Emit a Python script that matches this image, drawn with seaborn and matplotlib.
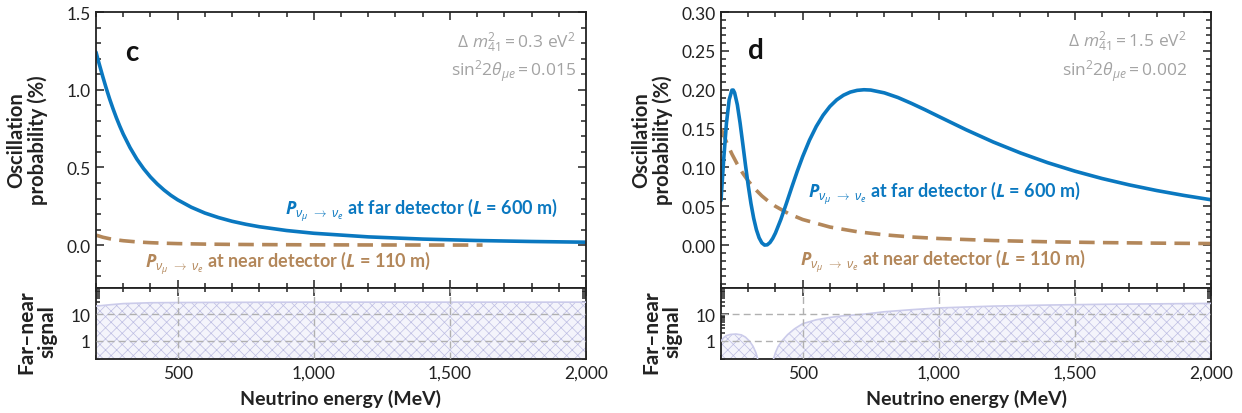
import matplotlib
matplotlib.use("Agg")
import matplotlib.pyplot as plt
import seaborn as sns
from matplotlib.ticker import (MultipleLocator, FixedLocator, LogLocator, NullFormatter,
                               FixedFormatter, FormatStrFormatter)

# ---------------- data ----------------
# Panel c : dm2 = 0.3 eV^2, sin^2 2theta = 0.015
energy_c_far = [200, 210, 225, 237.5, 250, 262.5, 275, 287.5, 300, 325, 350, 375, 400,
                425, 450, 475, 500, 550, 600, 650, 700, 750, 800, 900, 1000, 1200,
                1400, 1600, 1800, 2000]
prob_c_far = [1.242, 1.177, 1.084, 1.010, 0.941, 0.878, 0.819, 0.765, 0.715, 0.628,
              0.554, 0.492, 0.439, 0.394, 0.355, 0.321, 0.292, 0.2445, 0.207, 0.178,
              0.154, 0.135, 0.119, 0.0947, 0.0770, 0.0538, 0.0396, 0.0304, 0.0241,
              0.0195]
energy_c_near = [200, 225, 250, 275, 300, 350, 400, 450, 500, 600, 700, 800, 1000,
                 1200, 1400, 1620]
prob_c_near = [0.0649, 0.0515, 0.0418, 0.0346, 0.0291, 0.0214, 0.0164, 0.0130, 0.0105,
               0.0073, 0.00537, 0.0041, 0.00263, 0.00183, 0.00134, 0.0010]
energy_c_sig = [200, 250, 300, 400, 500, 700, 1000, 1500, 2000]
signal_c = [20.5, 23.0, 25.5, 27.5, 28.0, 28.5, 29.0, 29.0, 29.0]

# Panel d : dm2 = 1.5 eV^2, sin^2 2theta = 0.002
energy_d_far = [200, 210, 220, 230, 240, 245, 250, 260, 270, 280, 290, 300, 310, 320,
                330, 340, 350, 360, 370, 380, 390, 400, 420, 440, 460, 480, 500, 525,
                550, 575, 600, 625, 650, 675, 700, 725, 750, 800, 850, 900, 950, 1000,
                1100, 1200, 1300, 1400, 1500, 1600, 1700, 1800, 1900, 2000]
prob_d_far = [0.0579, 0.1110, 0.1569, 0.1871, 0.1995, 0.1996, 0.1961, 0.1807, 0.1575,
              0.1305, 0.1029, 0.0768, 0.0538, 0.0348, 0.0200, 0.00954, 0.00306,
              0.00022, 0.00055, 0.00355, 0.00876, 0.0157, 0.0333, 0.0536, 0.0746,
              0.0950, 0.1140, 0.1351, 0.1528, 0.1672, 0.1785, 0.1870, 0.1930, 0.1970,
              0.1992, 0.2000, 0.1996, 0.1960, 0.1900, 0.1824, 0.1742, 0.1656, 0.1486,
              0.1328, 0.1187, 0.1062, 0.0953, 0.0858, 0.0776, 0.0704, 0.0641, 0.0585]
energy_d_near = [200, 220, 240, 260, 280, 300, 325, 350, 375, 400, 450, 500, 600, 700,
                 800, 900, 1000, 1200, 1400, 1600, 1800, 2000]
prob_d_near = [0.1501, 0.1328, 0.1174, 0.1041, 0.0926, 0.0827, 0.0723, 0.0635, 0.0562,
               0.0501, 0.0403, 0.0331, 0.0234, 0.0174, 0.0134, 0.0106, 0.00865,
               0.00604, 0.00445, 0.00341, 0.00270, 0.00219]
energy_d_sig_lobe = [200, 210, 220, 235, 255, 275, 290, 305, 318, 328, 334, 338]
signal_d_lobe = [0.95, 1.3, 1.55, 1.72, 1.78, 1.65, 1.35, 0.95, 0.6, 0.35, 0.22, 0.1]
energy_d_sig_rise = [390, 393, 400, 410, 425, 445, 470, 500, 550, 600, 650, 720, 800,
                     900, 1000, 1200, 1400, 1600, 1800, 2000]
signal_d_rise = [0.1, 0.2, 0.35, 0.6, 1.0, 1.7, 2.8, 4.4, 6.2, 7.6, 8.8, 10.0, 12.5,
                 15.0, 17.5, 20.5, 22.5, 24.0, 25.0, 26.0]

x_tick_values = [500, 1000, 1500, 2000]
x_tick_labels = ["500", "1,000", "1,500", "2,000"]
c_ytick_values = [0.0, 0.5, 1.0, 1.5]
d_ytick_values = [0.00, 0.05, 0.10, 0.15, 0.20, 0.25, 0.30]
sig_tick_values = [1, 10]
sig_tick_labels = ["1", "10"]

# ---------------- style ----------------
sns.set_theme(style="ticks")
plt.rcParams.update({
    "axes.edgecolor": "#222222",
    "axes.linewidth": 1.3,
    "xtick.direction": "in",
    "ytick.direction": "in",
    "xtick.color": "#222222",
    "ytick.color": "#222222",
    "xtick.labelcolor": "#222222",
    "ytick.labelcolor": "#222222",
    "mathtext.fontset": "custom",
    "mathtext.rm": "Open Sans",
    "mathtext.it": "Open Sans:italic",
    "mathtext.bf": "Open Sans:bold",
    "mathtext.bfit": "Open Sans:italic:bold",
    "mathtext.sf": "Open Sans",
    "hatch.linewidth": 0.5,
})
plt.rcParams["font.family"] = ["Lato", "DejaVu Sans"]

BLUE = "#0a78c0"
BROWN = "#b3875a"
GRAY = "#a3a3a3"
LAV_LINE = "#cbcbea"
LAV_HATCH = "#bdbde2"
TXT = "#222222"
NEAR_DASH = (0, (4.3, 2.3))

W, H = 1242, 414
fig = plt.figure(figsize=(W / 100, H / 100), dpi=100)


def rect(x0, y0, x1, y1):
    return [x0 / W, 1 - y1 / H, (x1 - x0) / W, (y1 - y0) / H]


def style_main(ax, ymin, ymax, yticks, yminor, fmt):
    ax.set_xlim(200, 2000)
    ax.set_ylim(ymin, ymax)
    ax.xaxis.set_major_locator(MultipleLocator(500))
    ax.xaxis.set_minor_locator(MultipleLocator(100))
    ax.yaxis.set_major_locator(FixedLocator(yticks))
    ax.yaxis.set_minor_locator(MultipleLocator(yminor))
    ax.yaxis.set_major_formatter(FormatStrFormatter(fmt))
    ax.tick_params(which="both", top=True, right=True, bottom=True, left=True,
                   labelbottom=False, width=1.1)
    ax.tick_params(which="major", length=6, labelsize=12.5, pad=4)
    ax.tick_params(which="minor", length=3.5)
    ax.set_xlabel("")
    ax.set_ylabel("")


def style_strip(ax):
    ax.set_xlim(200, 2000)
    ax.set_yscale("log")
    ax.set_ylim(0.2, 100)
    ax.xaxis.set_major_locator(FixedLocator(x_tick_values))
    ax.xaxis.set_major_formatter(FixedFormatter(x_tick_labels))
    ax.xaxis.set_minor_locator(MultipleLocator(100))
    ax.yaxis.set_major_locator(FixedLocator(sig_tick_values))
    ax.yaxis.set_major_formatter(FixedFormatter(sig_tick_labels))
    ax.yaxis.set_minor_locator(LogLocator(base=10, subs=range(2, 10)))
    ax.yaxis.set_minor_formatter(NullFormatter())
    ax.tick_params(which="both", top=True, right=True, bottom=True, left=True, width=1.1)
    ax.tick_params(which="major", length=6, labelsize=12.5, pad=4)
    ax.tick_params(which="minor", length=3.0)
    for v in [500, 1000, 1500]:
        ax.axvline(v, color="#b0b0b0", lw=1.0, ls=(0, (5, 3)), zorder=4)
    for v in sig_tick_values:
        ax.axhline(v, color="#b0b0b0", lw=1.0, ls=(0, (5, 3)), zorder=4)
    ax.set_xlabel("Neutrino energy (MeV)", fontsize=14, fontweight="bold",
                  color=TXT, labelpad=6)
    ax.set_ylabel("")


def fill_signal(ax, xs, ys):
    ax.fill_between(xs, 0.01, ys, facecolor="#f4f4fb", edgecolor=LAV_HATCH,
                    hatch="xxx", linewidth=0, zorder=2)
    sns.lineplot(x=xs, y=ys, ax=ax, color=LAV_LINE, lw=1.2, legend=False, zorder=3,
                 estimator=None, sort=False)


far_label = r"$\mathbfit{P}_{\nu_\mu\ \rightarrow\ \nu_e}$ at far detector ($\mathbfit{L}$ = 600 m)"
near_label = r"$\mathbfit{P}_{\nu_\mu\ \rightarrow\ \nu_e}$ at near detector ($\mathbfit{L}$ = 110 m)"

# ---------------- panel c ----------------
axc = fig.add_axes(rect(96, 13, 586, 289))
sns.lineplot(x=energy_c_near, y=prob_c_near, ax=axc, color=BROWN, lw=2.6,
             linestyle=NEAR_DASH, legend=False, estimator=None, sort=False)
sns.lineplot(x=energy_c_far, y=prob_c_far, ax=axc, color=BLUE, lw=2.6,
             legend=False, estimator=None, sort=False)
style_main(axc, -0.275, 1.5, c_ytick_values, 0.1, "%.1f")
axc.text(330, 1.245, "c", fontsize=20, fontweight="bold", color="#111111",
         ha="center", va="center")
axc.text(1963, 1.31, r"$\Delta\ m^2_{41} = 0.3\ \mathrm{eV}^2$", color=GRAY,
         fontsize=12.5, ha="right", va="center")
axc.text(1963, 1.125, r"$\mathrm{sin}^2 2\theta_{\mu e} = 0.015$", color=GRAY,
         fontsize=12.5, ha="right", va="center")
axc.text(1897, 0.232, far_label, color=BLUE, fontsize=13, fontweight="bold",
         ha="right", va="center")
axc.text(380, -0.11, near_label, color=BROWN, fontsize=13, fontweight="bold",
         ha="left", va="center")

axcs = fig.add_axes(rect(96, 289, 586, 360))
fill_signal(axcs, energy_c_sig, signal_c)
style_strip(axcs)

# ---------------- panel d ----------------
axd = fig.add_axes(rect(721, 13, 1211, 289))
sns.lineplot(x=energy_d_near, y=prob_d_near, ax=axd, color=BROWN, lw=2.6,
             linestyle=NEAR_DASH, legend=False, estimator=None, sort=False)
sns.lineplot(x=energy_d_far, y=prob_d_far, ax=axd, color=BLUE, lw=2.6,
             legend=False, estimator=None, sort=False)
style_main(axd, -0.055, 0.30, d_ytick_values, 0.01, "%.2f")
axd.text(330, 0.251, "d", fontsize=20, fontweight="bold", color="#111111",
         ha="center", va="center")
axd.text(1911, 0.2626, r"$\Delta\ m^2_{41} = 1.5\ \mathrm{eV}^2$", color=GRAY,
         fontsize=12.5, ha="right", va="center")
axd.text(1911, 0.2255, r"$\mathrm{sin}^2 2\theta_{\mu e} = 0.002$", color=GRAY,
         fontsize=12.5, ha="right", va="center")
axd.text(521, 0.068, far_label, color=BLUE, fontsize=13, fontweight="bold",
         ha="left", va="center")
axd.text(492, -0.020, near_label, color=BROWN, fontsize=13, fontweight="bold",
         ha="left", va="center")

axds = fig.add_axes(rect(721, 289, 1211, 360))
fill_signal(axds, energy_d_sig_lobe, signal_d_lobe)
fill_signal(axds, energy_d_sig_rise, signal_d_rise)
style_strip(axds)

# ---------------- y labels ----------------
for x0 in (0, 625):
    fig.text((x0 + 27) / W, 1 - 140 / H, "Oscillation\nprobability (%)", rotation=90,
             ha="center", va="center", fontsize=14.5, fontweight="bold", color=TXT,
             multialignment="center", linespacing=1.05)
    fig.text((x0 + 37) / W, 1 - 332 / H, "Far\u2013near\nsignal", rotation=90,
             ha="center", va="center", fontsize=15, fontweight="bold", color=TXT,
             multialignment="center", linespacing=1.05)

fig.savefig("out.png", dpi=100)
